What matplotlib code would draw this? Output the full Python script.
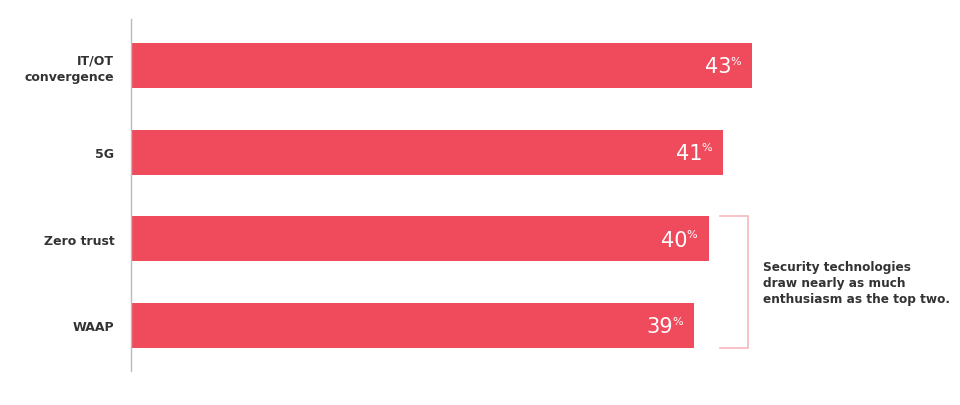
import matplotlib
matplotlib.use("Agg")
import matplotlib.pyplot as plt

categories = ["IT/OT\nconvergence", "5G", "Zero trust", "WAAP"]
values = [43, 41, 40, 39]
note = "Security technologies\ndraw nearly as much\nenthusiasm as the top two."

bar_color = "#ef4b5c"
bracket_color = "#f7b7be"
text_color = "#333333"

fig = plt.figure(figsize=(9.6, 4.06), dpi=100)
# axes spans pixel x 131..954, y 20..372
ax = fig.add_axes([131 / 960, 34 / 406, 823 / 960, 352 / 406])

ypos = list(range(len(categories)))
ax.barh(ypos, values, height=0.52, color=bar_color)
ax.set_xlim(0, 57)
ax.set_ylim(3.525, -0.536)

for s in ["top", "right", "bottom"]:
    ax.spines[s].set_visible(False)
ax.spines["left"].set_color("#bbbbbb")
ax.spines["left"].set_linewidth(1)
ax.set_xticks([])
ax.set_yticks(ypos)
ax.set_yticklabels(categories, fontsize=9, fontweight="bold", color=text_color,
                   linespacing=1.3)
ax.tick_params(axis="y", length=0, pad=12)

for y, v in zip(ypos, values):
    ax.annotate("%", (v, y), xytext=(-8, 7), textcoords="offset points",
                ha="right", va="top", color="white", fontsize=8)
    ax.annotate(str(v), (v, y), xytext=(-15, -0.5), textcoords="offset points",
                ha="right", va="center", color="white", fontsize=15)

# bracket around the two security technologies
bx0, bx1 = 40.8, 42.7
ytop, ybot = 2 - 0.26, 3 + 0.26
ax.plot([bx0, bx1, bx1, bx0], [ytop, ytop, ybot, ybot], color=bracket_color,
        lw=1.2, solid_joinstyle="miter", clip_on=False)

ax.text(43.8, 2.5, note, ha="left", va="center", fontsize=8.7, fontweight="bold",
        color=text_color, linespacing=1.3)

fig.savefig("out.png", dpi=100)
